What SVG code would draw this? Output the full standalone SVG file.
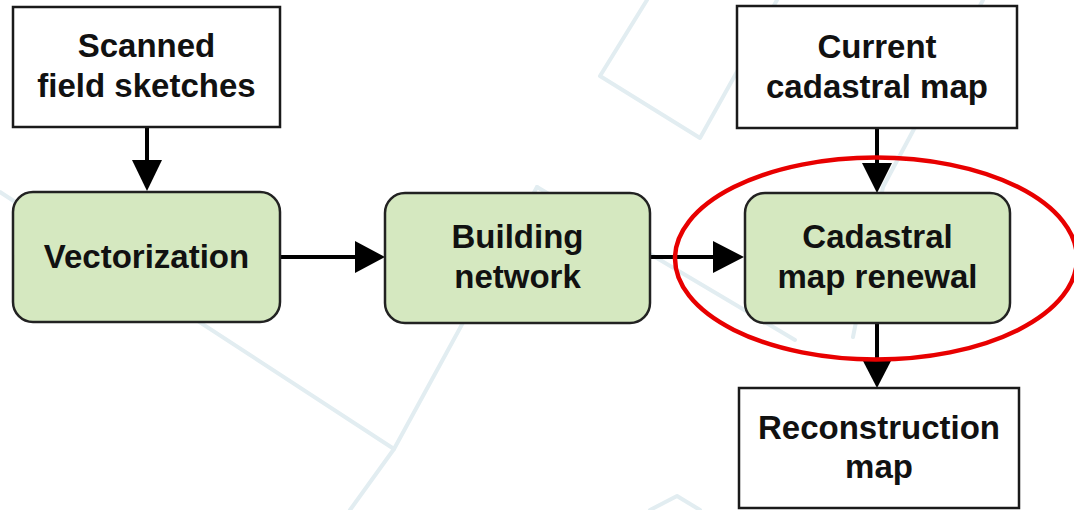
<svg xmlns="http://www.w3.org/2000/svg" width="1074" height="510" viewBox="0 0 1074 510">
<defs>
<style>
.wm{fill:none;stroke:#e2edf1;stroke-width:4;stroke-linecap:round;stroke-linejoin:round}
.box{fill:#ffffff;stroke:#1a1a1a;stroke-width:2.5}
.proc{fill:#d5e8c0;stroke:#222222;stroke-width:2.5}
.lbl{font-family:"Liberation Sans",Arial,sans-serif;font-weight:bold;font-size:33px;fill:#111111;text-anchor:middle}
.edge{stroke:#000000;stroke-width:4;fill:none}
.head{fill:#000000}
</style>
</defs>
<rect width="1074" height="510" fill="#ffffff"/>
<g id="watermark">
<polyline class="wm" points="0,192 394,449"/>
<polyline class="wm" points="537,187 394,449 350,510"/>
<polyline class="wm" points="537,187 795,340"/>
<polyline class="wm" points="647,0 600,76 700,138 777,0"/>
<polyline class="wm" points="983,0 883,187 853,337"/>
<polyline class="wm" points="650,510 677,496 700,510"/>
</g>
<g id="connectors">
<line class="edge" x1="147" y1="127" x2="147" y2="162"/>
<polygon class="head" points="132,160 162,160 147,191"/>
<line class="edge" x1="280" y1="257" x2="357" y2="257"/>
<polygon class="head" points="355,241 355,273 385,257"/>
<line class="edge" x1="650" y1="257" x2="715" y2="257"/>
<polygon class="head" points="713,241 713,273 744,257"/>
<line class="edge" x1="877" y1="128" x2="877" y2="165"/>
<polygon class="head" points="862,163 892,163 877,193"/>
<line class="edge" x1="877" y1="323" x2="877" y2="362"/>
<polygon class="head" points="862,359 892,359 877,388"/>
</g>
<g id="n-scanned">
<rect class="box" x="13" y="7" width="267" height="120"/>
<text class="lbl" x="146.5" y="57">Scanned</text>
<text class="lbl" x="146.5" y="97">field sketches</text>
</g>
<g id="n-vectorization">
<rect class="proc" x="13" y="192" width="267" height="130" rx="20"/>
<text class="lbl" x="146.5" y="268">Vectorization</text>
</g>
<g id="n-building">
<rect class="proc" x="385" y="193" width="265" height="130" rx="20"/>
<text class="lbl" x="517.5" y="248">Building</text>
<text class="lbl" x="517.5" y="288">network</text>
</g>
<g id="n-current">
<rect class="box" x="737" y="6" width="280" height="122"/>
<text class="lbl" x="877" y="58">Current</text>
<text class="lbl" x="877" y="98">cadastral map</text>
</g>
<g id="n-renewal">
<rect class="proc" x="745" y="193" width="265" height="130" rx="20"/>
<text class="lbl" x="877.5" y="248">Cadastral</text>
<text class="lbl" x="877.5" y="288">map renewal</text>
</g>
<g id="n-reconstruction">
<rect class="box" x="739" y="388" width="280" height="120"/>
<text class="lbl" x="879" y="439">Reconstruction</text>
<text class="lbl" x="879" y="478">map</text>
</g>
<g id="highlight">
<ellipse cx="876" cy="258.5" rx="201" ry="101" fill="none" stroke="#e80000" stroke-width="4.5"/>
</g>
</svg>
